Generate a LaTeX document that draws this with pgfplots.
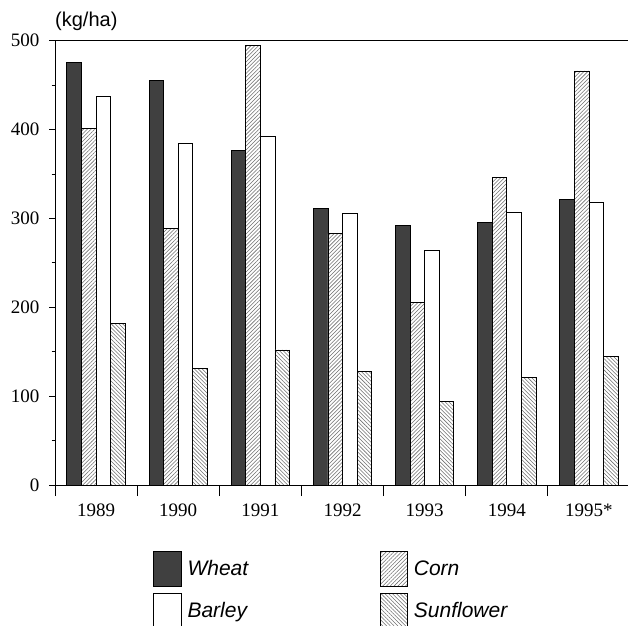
\documentclass[border=0pt]{standalone}
\usepackage{pgfplots}
\pgfplotsset{compat=1.18}
\usepackage{pgfplotstable}
\usepackage{fontspec}
\setmainfont{Liberation Serif}
\setsansfont{Liberation Sans}
\usetikzlibrary{patterns.meta}
\definecolor{wheatc}{HTML}{404040}
\definecolor{hatch}{HTML}{707070}

\pgfplotstableread{
x wheat corn barley sunflower
0 476 401 437 182
1 455 289 384 131
2 376 495 392 152
3 311 283 306 128
4 292 205 264 94
5 295 346 307 121
6 321 466 318 145
}\datatable

\begin{document}
\begin{tikzpicture}
\path[use as bounding box] (0,0) rectangle (628pt,625pt);
\begin{axis}[
  at={(55pt,140pt)}, anchor=south west,
  scale only axis, width=575pt, height=444.3pt,
  xmin=-0.5, xmax=6.5, ymin=0, ymax=500,
  axis x line*=bottom, axis y line*=left,
  axis line style={line width=0.8pt, black},
  clip=false,
  ybar=0pt, bar width=14.6pt,
  xtick={-0.5,0.5,...,6.5},
  x tick label as interval,
  xticklabels={1989,1990,1991,1992,1993,1994,1995*},
  ytick={0,100,...,500},
  minor ytick={50,150,...,450},
  tick align=outside,
  major tick length=6pt, minor tick length=3.5pt,
  major x tick style={/pgfplots/major tick length=11pt},
  tick style={line width=0.8pt, black},
  /pgf/number format/assume math mode=true,
  tick label style={font=\fontsize{19}{21}\selectfont},
  yticklabel style={anchor=east, inner sep=0pt, xshift=-9.5pt},
  xticklabel style={anchor=base, inner sep=0pt, yshift=-25pt},
  legend image code/.code={\draw[#1] (0pt,-10.7pt) rectangle (27.4pt,24.3pt);},
  legend columns=2,
  legend style={draw=none, fill=none, inner sep=0pt, outer sep=0pt,
    at={(0.17096,-0.14787)}, anchor=north west,
    font=\sffamily\itshape\fontsize{21}{24}\selectfont,
    nodes={inner sep=0pt, anchor=base west},
    row sep=6.6pt,
    /tikz/every odd column/.append style={column sep=6pt},
    /tikz/every even column/.append style={column sep=131.5pt}},
]
\addplot[draw=black, line width=0.8pt, fill=wheatc] table[x=x, y=wheat] {\datatable};
\addlegendentry{Wheat}
\addplot[draw=black, line width=0.8pt, preaction={fill=white},
  pattern={Lines[angle=45, distance=2.7pt, line width=0.55pt]}, pattern color=hatch] table[x=x, y=corn] {\datatable};
\addlegendentry{Corn}
\addplot[draw=black, line width=0.8pt, fill=white] table[x=x, y=barley] {\datatable};
\addlegendentry{Barley}
\addplot[draw=black, line width=0.8pt, preaction={fill=white},
  pattern={Lines[angle=-45, distance=2.7pt, line width=0.55pt]}, pattern color=hatch] table[x=x, y=sunflower] {\datatable};
\addlegendentry{Sunflower}
\draw[line width=0.8pt] (rel axis cs:0,1) -- (rel axis cs:1,1);
\node[anchor=base west, inner sep=0pt, font=\sffamily\fontsize{20}{23}\selectfont]
  at (rel axis cs:0,1) [yshift=14.7pt] {(kg/ha)};
\end{axis}
\end{tikzpicture}
\end{document}
